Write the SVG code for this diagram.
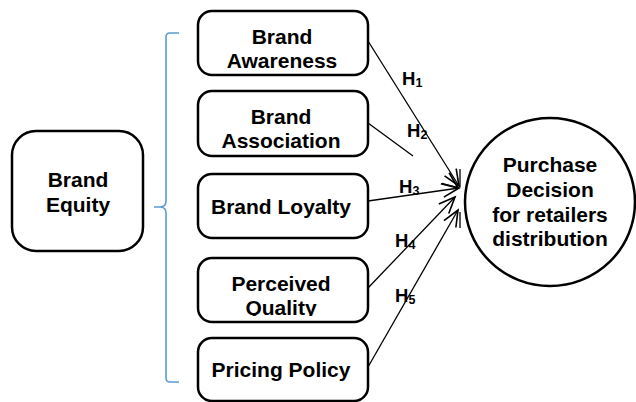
<svg xmlns="http://www.w3.org/2000/svg" width="636" height="402" viewBox="0 0 636 402">
<style>
.box{fill:#fff;stroke:#000;stroke-width:2.5}
.t{font-family:"Liberation Sans",Arial,sans-serif;font-weight:bold;font-size:21px;fill:#000;text-anchor:middle}
.h{font-family:"Liberation Sans",Arial,sans-serif;font-weight:bold;font-size:18.5px;fill:#000}
.sub{font-size:12.5px}
.c{fill:none;stroke:#000;stroke-width:1.3}
</style>
<defs>
<marker id="ah" markerUnits="userSpaceOnUse" markerWidth="20" markerHeight="20" viewBox="-14 -8 16 16" refX="0" refY="0" orient="auto">
<path d="M-13,-5.5 L0,0 L-13,5.5" fill="none" stroke="#000" stroke-width="1.3"/>
</marker>
<clipPath id="clipQ"><rect x="198" y="258" width="170" height="58"/></clipPath>
</defs>

<path id="bracket" d="M179,33 L170,33 Q166,33 166,37 L166,201 Q166,207 160,207 L154,207 L160,207 Q166,207 166,213 L166,378 Q166,382 170,382 L179,382" fill="none" stroke="#5B9BD5" stroke-width="1.6"/>

<g id="brand-equity">
<rect class="box" x="12" y="131" width="131" height="120" rx="24"/>
<text class="t" x="78" y="187">Brand</text>
<text class="t" x="78" y="212">Equity</text>
</g>

<g id="brand-awareness">
<rect class="box" x="198" y="11" width="170" height="64" rx="14"/>
<text class="t" x="282" y="44">Brand</text>
<text class="t" x="282" y="68">Awareness</text>
</g>

<g id="brand-association">
<rect class="box" x="198" y="91" width="170" height="65" rx="14"/>
<text class="t" x="281" y="124">Brand</text>
<text class="t" x="281" y="148">Association</text>
</g>

<g id="brand-loyalty">
<rect class="box" x="198" y="174" width="170" height="64" rx="14"/>
<text class="t" x="281" y="214">Brand Loyalty</text>
</g>

<g id="perceived-quality">
<rect class="box" x="198" y="258" width="170" height="64" rx="14"/>
<text class="t" x="281" y="291">Perceived</text>
<text class="t" x="281" y="315" clip-path="url(#clipQ)">Quality</text>
</g>

<g id="pricing-policy">
<rect class="box" x="198" y="338" width="170" height="63" rx="14"/>
<text class="t" x="281" y="377">Pricing Policy</text>
</g>

<g id="purchase-decision">
<ellipse class="box" cx="550" cy="202" rx="85" ry="84"/>
<text class="t" x="550" y="172">Purchase</text>
<text class="t" x="550" y="197">Decision</text>
<text class="t" x="550" y="222">for retailers</text>
<text class="t" x="550" y="246">distribution</text>
</g>

<g id="connectors">
<path class="c" d="M368,41 L459,186" marker-end="url(#ah)"/>
<path class="c" d="M368,123 L413,156"/>
<path d="M450,182 L458,188" fill="none" stroke="none" marker-end="url(#ah)"/>
<path class="c" d="M368,201 L459,188" marker-end="url(#ah)"/>
<path class="c" d="M368,288 L455,197" marker-end="url(#ah)"/>
<path class="c" d="M368,367 L458,210" marker-end="url(#ah)"/>
<path class="c" d="M460,169 L460,187 M460,212 L460,228"/>
</g>

<g id="labels">
<text class="h" x="402" y="85">H<tspan class="sub" dy="2">1</tspan></text>
<text class="h" x="407" y="137">H<tspan class="sub" dy="2">2</tspan></text>
<text class="h" x="399" y="193">H<tspan class="sub" dy="2">3</tspan></text>
<text class="h" x="395" y="247">H<tspan class="sub" dy="2">4</tspan></text>
<text class="h" x="395" y="302">H<tspan class="sub" dy="2">5</tspan></text>
</g>
</svg>
